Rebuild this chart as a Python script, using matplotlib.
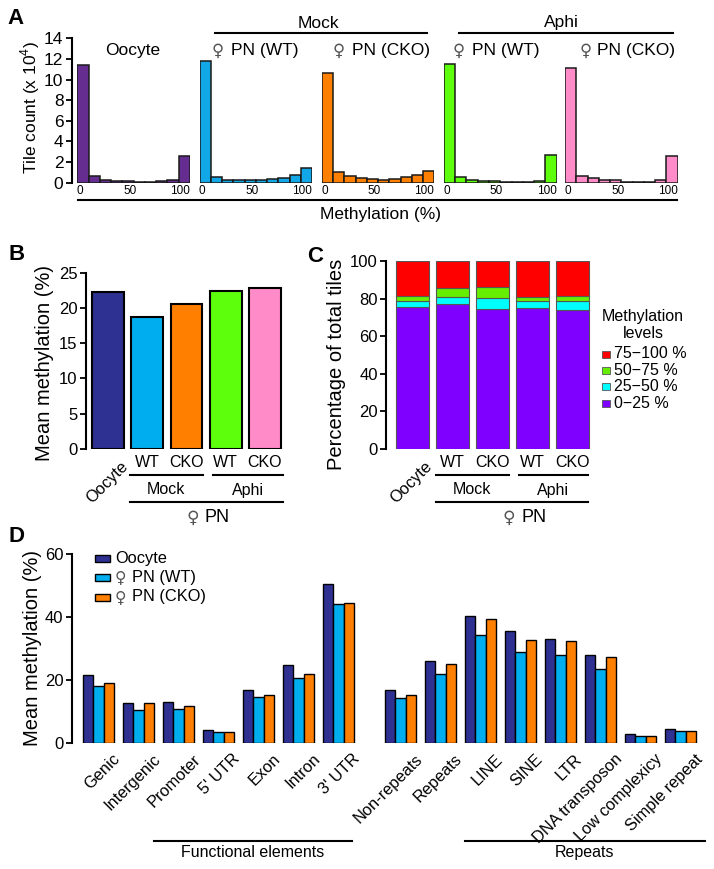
import numpy as np
import matplotlib
matplotlib.use("Agg")
import matplotlib.pyplot as plt
from matplotlib.lines import Line2D
from matplotlib.patches import Rectangle
from matplotlib.transforms import offset_copy

plt.rcParams['font.family'] = ['Liberation Sans', 'DejaVu Sans']
plt.rcParams['mathtext.fontset'] = 'custom'
plt.rcParams['mathtext.rm'] = 'Liberation Sans'

# ---------------- data ----------------
# Panel A: histograms (tile count x 10^4), 10 bins of methylation 0-100 %
hist_titles = ["Oocyte", "♀ PN (WT)", "♀ PN (CKO)", "♀ PN (WT)", "♀ PN (CKO)"]
hist_oocyte = [11.4, 0.62, 0.3, 0.2, 0.15, 0.1, 0.1, 0.15, 0.3, 2.62]
hist_mock_wt = [11.8, 0.55, 0.3, 0.25, 0.25, 0.25, 0.35, 0.5, 0.75, 1.4]
hist_mock_cko = [10.67, 1.07, 0.65, 0.45, 0.35, 0.3, 0.4, 0.6, 0.78, 1.17]
hist_aphi_wt = [11.5, 0.52, 0.28, 0.15, 0.15, 0.1, 0.1, 0.1, 0.2, 2.72]
hist_aphi_cko = [11.15, 0.65, 0.43, 0.3, 0.25, 0.1, 0.1, 0.1, 0.25, 2.62]
hist_ticks = [0, 50, 100]

# Panel B: mean methylation (%)
b_labels = ["Oocyte", "WT", "CKO", "WT", "CKO"]
b_values = [22.2, 18.75, 20.55, 22.45, 22.8]

# Panel C: percentage of total tiles per methylation level
c_levels = ["0\u221225 %", "25\u221250 %", "50\u221275 %", "75\u2212100 %"]
c_0_25 = [75.7, 77.1, 74.2, 75.1, 73.9]
c_25_50 = [3.0, 3.5, 5.9, 3.4, 4.6]
c_50_75 = [2.6, 5.2, 5.9, 2.5, 2.7]
c_75_100 = [18.7, 14.2, 14.0, 19.0, 18.8]

# Panel D: mean methylation (%) by genomic feature
d_categories = ["Genic", "Intergenic", "Promoter", "5' UTR", "Exon", "Intron", "3' UTR",
                "Non-repeats", "Repeats", "LINE", "SINE", "LTR", "DNA transposon",
                "Low complexicy", "Simple repeat"]
d_series = ["Oocyte", "♀ PN (WT)", "♀ PN (CKO)"]
d_oocyte = [21.5, 12.9, 13.2, 4.1, 17.0, 24.7, 50.6, 16.8, 26.1, 40.2, 35.5, 33.0, 28.1, 2.85, 4.6]
d_pn_wt = [18.3, 10.7, 11.0, 3.5, 14.8, 20.7, 44.0, 14.2, 21.9, 34.2, 28.9, 27.9, 23.4, 2.4, 3.8]
d_pn_cko = [19.2, 12.9, 11.9, 3.5, 15.2, 21.9, 44.6, 15.3, 25.1, 39.5, 32.6, 32.5, 27.5, 2.4, 3.8]

# ---------------- layout helpers ----------------
W, H = 714, 869
fig = plt.figure(figsize=(W / 100, H / 100), dpi=100)


def rect(l, t, r, b):
    return [l / W, 1 - b / H, (r - l) / W, (b - t) / H]


def ftext(x, y, s, **kw):
    kw.setdefault('ha', 'center')
    kw.setdefault('va', 'center')
    return fig.text(x / W, 1 - y / H, s, **kw)


def fem_label(x_sym, x_text, y, s, fs):
    """Draw a label starting with the female sign: sign and rest placed separately."""
    rest = s.replace("♀", "").strip()
    ftext(x_sym, y + 1, "♀", fontsize=fs * 0.95, family=['DejaVu Sans'], color='#555555')
    ftext(x_text, y, rest, ha='left', fontsize=fs)


def hline(x0, x1, y, lw=1.5):
    fig.add_artist(Line2D([x0 / W, x1 / W], [1 - y / H, 1 - y / H], color='black',
                          lw=lw, transform=fig.transFigure))


def style_axis(ax, ylim, yticks, fs=12):
    ax.set_ylim(*ylim)
    ax.set_yticks(yticks)
    for s in ['top', 'right', 'bottom']:
        ax.spines[s].set_visible(False)
    ax.spines['left'].set_linewidth(1.5)
    ax.tick_params(axis='y', direction='out', length=4, width=1.3, labelsize=fs, pad=2)
    ax.tick_params(axis='x', length=0)


# ---------------- Panel A ----------------
hist_data = [hist_oocyte, hist_mock_wt, hist_mock_cko, hist_aphi_wt, hist_aphi_cko]
hist_colors = ["#662d91", "#12a8e8", "#ff7f00", "#5dff0d", "#ff8cc8"]
a_lefts = [77.3, 199.5, 321.7, 443.9, 565.0]
a_width = 112.7
a_title_pos = [None, (218, 231), (339, 352), (459, 472), (585.5, 597)]
edges = np.linspace(-2.7, 110, 11)
for i, (vals, col, title) in enumerate(zip(hist_data, hist_colors, hist_titles)):
    ax = fig.add_axes(rect(a_lefts[i], 38.3, a_lefts[i] + a_width, 182.7))
    ax.bar(edges[:-1], vals, width=np.diff(edges), align='edge', color=col,
           edgecolor='#1a1a1a', linewidth=1.1)
    ax.set_xlim(edges[0], edges[-1])
    style_axis(ax, (0, 14), range(0, 15, 2), fs=12.5)
    ax.set_xticks(hist_ticks)
    ax.set_xticklabels([str(t) for t in hist_ticks], fontsize=8.5)
    ax.tick_params(axis='x', pad=1.5)
    if i == 0:
        ax.spines['left'].set_position(('outward', 4))
    else:
        ax.spines['left'].set_visible(False)
        ax.tick_params(axis='y', left=False, labelleft=False)
    ax.patch.set_alpha(0)
    if a_title_pos[i] is None:
        ftext(133, 50, title, fontsize=12.5)
    else:
        fem_label(a_title_pos[i][0], a_title_pos[i][1], 50, title, 12.5)

ftext(30, 108, "Tile count (x 10$^{4}$)", rotation=90, fontsize=12.5)
hline(78, 677, 199.5)
ftext(380, 214, "Methylation (%)", fontsize=12.5)
hline(215, 427, 33.3)
ftext(318, 23, "Mock", fontsize=12.5)
hline(459, 673, 33.3)
ftext(561, 23, "Aphi", fontsize=12.5)

# ---------------- Panel B ----------------
b_colors = ["#2e3192", "#00aeef", "#ff7f00", "#5dff0d", "#ff8cc8"]
axb = fig.add_axes(rect(86, 272.7, 285, 448.7))
xb = np.arange(len(b_values))
axb.bar(xb, b_values, width=0.81, color=b_colors, edgecolor='black', linewidth=1.5)
axb.set_xlim(-0.56, 4.51)
style_axis(axb, (0, 25), range(0, 26, 5), fs=12)
axb.set_xticks([])
tb = offset_copy(axb.transData, fig=fig, x=0, y=-13.5, units='dots')
for i, lab in enumerate(b_labels):
    if i == 0:
        axb.text(i, 0, lab, transform=offset_copy(axb.transData, fig=fig, x=12, y=-10, units='dots'),
                 rotation=45, rotation_mode='anchor', ha='right', va='top', fontsize=11.8)
    else:
        axb.text(i, 0, lab, transform=tb, ha='center', va='center', fontsize=11.5)
ftext(45, 363, "Mean methylation (%)", rotation=90, fontsize=14.5)
hline(130, 203, 474.5)
hline(213, 283, 474.5)
ftext(166, 490, "Mock", fontsize=11.5)
ftext(248, 490, "Aphi", fontsize=11.5)
hline(130, 283, 502)
fem_label(192.5, 204, 517, "♀ PN", 13)

# ---------------- Panel C ----------------
c_colors = ["#7f00ff", "#00ffff", "#66ee00", "#ff0000"]
axc = fig.add_axes(rect(386, 261, 590.5, 448.7))
xc = np.arange(len(c_0_25))
bottom = np.zeros(len(xc))
for vals, col in zip([c_0_25, c_25_50, c_50_75, c_75_100], c_colors):
    axc.bar(xc, vals, bottom=bottom, width=0.83, color=col, edgecolor='#555555', linewidth=0.8)
    bottom += np.array(vals)
axc.set_xlim(-0.66, 4.45)
style_axis(axc, (0, 100), range(0, 101, 20), fs=12)
axc.set_xticks([])
tc = offset_copy(axc.transData, fig=fig, x=0, y=-13.5, units='dots')
for i, lab in enumerate(b_labels):
    if i == 0:
        axc.text(i, 0, lab, transform=offset_copy(axc.transData, fig=fig, x=12, y=-10, units='dots'),
                 rotation=45, rotation_mode='anchor', ha='right', va='top', fontsize=11.8)
    else:
        axc.text(i, 0, lab, transform=tc, ha='center', va='center', fontsize=11.5)
ftext(337, 364, "Percentage of total tiles", rotation=90, fontsize=14.5)
hline(436, 509, 474.5)
hline(519, 588, 474.5)
ftext(472, 490, "Mock", fontsize=11.5)
ftext(553, 490, "Aphi", fontsize=11.5)
hline(436, 588, 502)
fem_label(509, 521.7, 517, "♀ PN", 13)

# legend C
ftext(643, 316, "Methylation", fontsize=11.5)
ftext(643, 334, "levels", fontsize=11.5)
leg_y = [354, 370.3, 386.7, 403]
for k, idx in enumerate([3, 2, 1, 0]):
    y = leg_y[k]
    fig.add_artist(Rectangle(((602) / W, 1 - (y + 3.5) / H), 8.3 / W, 7 / H,
                             facecolor=c_colors[idx], edgecolor='#555555', lw=0.6,
                             transform=fig.transFigure))
    ftext(614, y, c_levels[idx], ha='left', fontsize=11.5)

# ---------------- Panel D ----------------
axd = fig.add_axes(rect(71.7, 554, 705, 743.3))
pos = np.array(list(range(7)) + [7.55 + k for k in range(8)])
bw = 0.2625
d_colors = ["#2e3192", "#00aeef", "#ff7f00"]
for j, (vals, col) in enumerate(zip([d_oocyte, d_pn_wt, d_pn_cko], d_colors)):
    axd.bar(pos + (j - 1) * bw, vals, width=bw, color=col, edgecolor='black',
            linewidth=1.0, label=d_series[j])
axd.set_xlim(-0.67, 15.16)
style_axis(axd, (0, 60), range(0, 61, 20), fs=12)
axd.set_xticks([])
td = offset_copy(axd.transData, fig=fig, x=14, y=-8, units='dots')
for p, lab in zip(pos, d_categories):
    axd.text(p, 0, lab, transform=td, rotation=45, rotation_mode='anchor',
             ha='right', va='top', fontsize=11.8)
ftext(33, 648, "Mean methylation (%)", rotation=90, fontsize=14.5)

# legend D
leg_dy = [558, 577.5, 597]
for k in range(3):
    y = leg_dy[k]
    fig.add_artist(Rectangle((95 / W, 1 - (y + 3.5) / H), 15 / W, 7 / H,
                             facecolor=d_colors[k], edgecolor='black', lw=1.0,
                             transform=fig.transFigure))
    if "♀" in d_series[k]:
        fem_label(120, 131.7, y, d_series[k], 11.8)
    else:
        ftext(115, y, d_series[k], ha='left', fontsize=11.8)

hline(154, 352, 840.7)
ftext(253, 852.5, "Functional elements", fontsize=11.5)
hline(465, 705, 840.7)
ftext(584, 852.5, "Repeats", fontsize=11.5)

# panel letters
ftext(16, 18, "A", fontsize=16, fontweight='bold')
ftext(17, 254, "B", fontsize=16, fontweight='bold')
ftext(315, 256, "C", fontsize=16, fontweight='bold')
ftext(17, 537, "D", fontsize=16, fontweight='bold')

fig.savefig("out.png", dpi=100)
